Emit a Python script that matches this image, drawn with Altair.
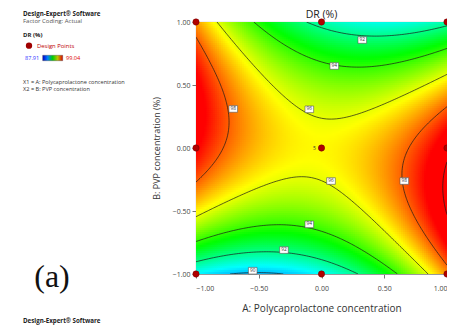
import numpy as np
import pandas as pd
import altair as alt

alt.data_transformers.disable_max_rows()

# ---- response-surface model coefficients ----
coef_names = ["const", "A", "B", "AB", "A2", "B2", "A2B", "B3"]
coef_vals = [96.316, 0.272, -0.157, -3.134, 3.091, -5.142, -0.206, 0.6]

contour_levels = [90, 92, 94, 96, 98, 100]

# contour labels (A, B, text)
label_A = [0.325, 0.102, -0.097, -0.703, 0.076, 0.66, -0.097, -0.299, -0.548]
label_B = [0.857, 0.651, 0.307, 0.31, -0.262, -0.262, -0.606, -0.81, -0.974]
label_T = ["92", "94", "96", "98", "96", "98", "94", "92", "90"]

# design points
pt_A = [-1, 0, 1, -1, 0, 1, -1, 0, 1]
pt_B = [1, 1, 1, 0, 0, 0, -1, -1, -1]

tick_vals = [-1, -0.5, 0, 0.5, 1]
color_min, color_max = 87.91, 99.04
color_range = ["#0000ff", "#00ffff", "#00ff00", "#ffff00", "#ff0000"]

c = dict(zip(coef_names, coef_vals))


def model(A, B):
    return (c["const"] + c["A"] * A + c["B"] * B + c["AB"] * A * B
            + c["A2"] * A ** 2 + c["B2"] * B ** 2 + c["A2B"] * A ** 2 * B
            + c["B3"] * B ** 3)


# ---- heat map cells ----
N = 120
edges = np.linspace(-1, 1, N + 1)
step = edges[1] - edges[0]
centers = (edges[:-1] + edges[1:]) / 2
rows = []
for j in range(N):
    for i in range(N):
        rows.append({
            "A": round(edges[i], 5), "A2": round(edges[i + 1] + 0.5 * step, 5),
            "B": round(edges[j], 5), "B2": round(edges[j + 1] + 0.5 * step, 5),
            "DR": round(float(model(centers[i], centers[j])), 3),
        })
heat = pd.DataFrame(rows)

# ---- contour segments (marching squares) ----
M = 101
g = np.linspace(-1, 1, M)
AA, BB = np.meshgrid(g, g)
Z = model(AA, BB)
segs = []
for lev in contour_levels:
    for j in range(M - 1):
        for i in range(M - 1):
            corners = [(i, j), (i + 1, j), (i + 1, j + 1), (i, j + 1)]
            pts = []
            for k in range(4):
                (i1, j1), (i2, j2) = corners[k], corners[(k + 1) % 4]
                z1, z2 = Z[j1, i1], Z[j2, i2]
                if (z1 - lev) * (z2 - lev) < 0:
                    t = (lev - z1) / (z2 - z1)
                    pts.append((g[i1] + t * (g[i2] - g[i1]),
                                g[j1] + t * (g[j2] - g[j1])))
            if len(pts) >= 2:
                segs.append({"A": pts[0][0], "B": pts[0][1],
                             "A2": pts[1][0], "B2": pts[1][1]})
            if len(pts) == 4:
                segs.append({"A": pts[2][0], "B": pts[2][1],
                             "A2": pts[3][0], "B2": pts[3][1]})
seg_df = pd.DataFrame(segs)

labels = pd.DataFrame({"A": label_A, "B": label_B, "t": label_T})
points = pd.DataFrame({"A": pt_A, "B": pt_B})
center_pt = pd.DataFrame({"A": [0], "B": [0], "t": ["5"]})

FONT = "Open Sans"
xscale = alt.Scale(domain=[-1, 1], nice=False, zero=False)
yscale = alt.Scale(domain=[-1, 1], nice=False, zero=False)
xaxis = alt.Axis(values=tick_vals, format=".2f", title="A: Polycaprolactone concentration",
                 grid=False, tickSize=4, labelPadding=6, labelFontSize=7, labelColor="#444",
                 titleFontSize=10, titleFontWeight="normal", titleColor="#333",
                 titlePadding=12, domainColor="#999", tickColor="#777", labelFont=FONT, titleFont=FONT)
yaxis = alt.Axis(values=tick_vals, format=".2f", title="B: PVP concentration (%)",
                 grid=False, tickSize=4, labelPadding=2, labelFontSize=7, labelColor="#444",
                 titleFontSize=9, titleFontWeight="normal", titleColor="#333",
                 titlePadding=11, domainColor="#999", tickColor="#777", labelFont=FONT, titleFont=FONT)


def X(f="A"):
    return alt.X(f"{f}:Q", scale=xscale, axis=xaxis)


def Y(f="B"):
    return alt.Y(f"{f}:Q", scale=yscale, axis=yaxis)


heat_layer = alt.Chart(heat).mark_rect(clip=True).encode(
    x=X("A"), x2="A2:Q", y=Y("B"), y2="B2:Q",
    color=alt.Color("DR:Q", scale=alt.Scale(domain=[color_min, color_max], range=color_range,
                                            clamp=True, interpolate="rgb"), legend=None),
)

contour_layer = alt.Chart(seg_df).mark_rule(color="#1a1a1a", strokeWidth=0.7, clip=True).encode(
    x=X("A"), y=Y("B"), x2="A2:Q", y2="B2:Q"
)

box_layer = alt.Chart(labels).mark_point(
    shape="M-1.3,-1L1.3,-1L1.3,1L-1.3,1Z", filled=True, fill="white", stroke="#555",
    strokeWidth=0.6, size=44, opacity=1
).encode(x=X("A"), y=Y("B"))

label_layer = alt.Chart(labels).mark_text(fontSize=4.8, color="#333", font=FONT).encode(
    x=X("A"), y=Y("B"), text="t:N"
)

points_layer = alt.Chart(points).mark_circle(size=40, color="#b00000", stroke="#700000",
                                             strokeWidth=0.5, opacity=1).encode(
    x=X("A"), y=Y("B")
)

five_layer = alt.Chart(center_pt).mark_text(fontSize=5, dx=-7, color="#333", font=FONT).encode(
    x=X("A"), y=Y("B"), text="t:N"
)


def note(text, x, y, size=5.3, weight="normal", color="#222", font=FONT, align="left"):
    return alt.Chart(pd.DataFrame({"t": [text]})).mark_text(
        fontSize=size, fontWeight=weight, color=color, font=font, align=align, baseline="middle"
    ).encode(x=alt.value(x), y=alt.value(y), text="t:N")


notes = [
    note("DR (%)", 125.5, -6.8, size=10.5, color="#222", align="center"),
    note("Design-Expert® Software", -173, -8, size=6.2, weight="bold"),
    note("Factor Coding: Actual", -173, -1, size=6, color="#555"),
    note("DR (%)", -173, 13, size=6, weight="bold"),
    note("Design Points", -159, 23.7, size=5.9, color="#c00000"),
    note("87.91", -171, 36, size=5.6, color="#3333ff"),
    note("99.04", -130, 36, size=5.6, color="#e00000"),
    note("X1 = A: Polycaprolactone concentration", -173, 59.7, size=5.6, color="#333"),
    note("X2 = B: PVP concentration", -173, 67.3, size=5.6, color="#333"),
    note("(a)", -144, 255, size=32, font="Liberation Serif", color="#111", align="center"),
    note("Design-Expert® Software", -173, 298.5, size=6.2, weight="bold"),
]

legend_dot = alt.Chart(pd.DataFrame({"t": [1]})).mark_circle(
    size=40, color="#a00000", opacity=1).encode(x=alt.value(-167), y=alt.value(23.7))

grad = alt.LinearGradient(
    gradient="linear", x1=0, y1=0, x2=1, y2=0,
    stops=[alt.GradientStop(offset=0, color="#0000c8"),
           alt.GradientStop(offset=0.25, color="#0080ff"),
           alt.GradientStop(offset=0.5, color="#00d000"),
           alt.GradientStop(offset=0.75, color="#c0c000"),
           alt.GradientStop(offset=1, color="#e00000")])
legend_bar = alt.Chart(pd.DataFrame({"t": [1]})).mark_rect(color=grad, stroke="#444",
                                                           strokeWidth=0.4).encode(
    x=alt.value(-153.3), x2=alt.value(-133.3), y=alt.value(33.3), y2=alt.value(38.7)
)

chart = alt.layer(
    heat_layer, contour_layer, box_layer, label_layer, points_layer, five_layer,
    legend_dot, legend_bar, *notes
).properties(
    width=251, height=252,
    autosize=alt.AutoSizeParams(type="none"),
    padding={"left": 188, "top": 14, "right": 0, "bottom": 52},
).configure_view(stroke="#aaa", strokeWidth=0.8)

chart.save("out.html", embed_options={"renderer": "svg", "actions": False})
